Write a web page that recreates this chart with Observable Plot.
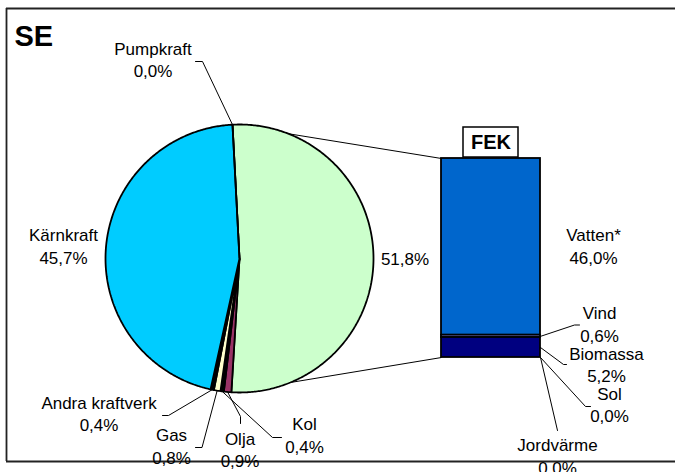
<!DOCTYPE html>
<html><head><meta charset="utf-8">
<script src="https://cdn.jsdelivr.net/npm/d3@7"></script>
<script src="https://cdn.jsdelivr.net/npm/@observablehq/plot@0.6"></script>
<style>
body{margin:0;background:#fff}
#chart{position:relative;width:675px;height:472px;overflow:hidden;background:#fff}
#chart svg{position:absolute;left:0;top:0}
</style>
</head><body><div id="chart"></div>
<script>
// ---------- DATA ----------
const pieNames  = ["FEK", "Olja", "Kol", "Gas", "Andra kraftverk", "Kärnkraft", "Pumpkraft"];
const pieValues = [51.8, 0.9, 0.4, 0.8, 0.4, 45.7, 0.0];
const fekNames  = ["Vatten*", "Vind", "Biomassa", "Sol", "Jordvärme"];
const fekValues = [46.0, 0.6, 5.2, 0.0, 0.0];
const chartTitle = "SE";
const barTitle = "FEK";

// ---------- STYLE / LAYOUT ----------
const colors = {
  "FEK": "#CCFFCC", "Olja": "#993366", "Kol": "#000000", "Gas": "#FFFFCC",
  "Andra kraftverk": "#000000", "Kärnkraft": "#00CCFF", "Pumpkraft": "#000000",
  "Vatten*": "#0066CC", "Vind": "#9999FF", "Biomassa": "#000080", "Sol": "#000000", "Jordvärme": "#000000"
};
const W = 675, H = 472;
const FONT = "'Liberation Sans', Arial, Helvetica, sans-serif";
const pieLayout = {cx: 239, cy: 258, r: 134, startDeg: -3};
const barLayout = {x0: 441, x1: 540, yTop: 158, yBottom: 357};
const frame = {left: 6, top: 8, bottom: 461};
const labelPos = {
  "Pumpkraft": [152.5, 76.5], "Kärnkraft": [63, 263], "FEK": [404.5, 264],
  "Andra kraftverk": [98.5, 430.5], "Gas": [171, 463], "Olja": [239.5, 466.5], "Kol": [304, 452],
  "Vatten*": [593, 263], "Vind": [599, 341], "Biomassa": [606, 381.5], "Sol": [609, 421.5], "Jordvärme": [557, 473]
};
const pieLeaders = {
  "Pumpkraft": [[195, 61], [202, 61]], "Andra kraftverk": [[162, 415], [168, 415]],
  "Gas": [[195, 447], [201.5, 447]], "Olja": [[240, 423], [240, 416]], "Kol": [[281, 437], [272, 437]]
};
const barLeaders = {
  "Vind": [[579, 324.5], [574, 324.5]], "Biomassa": [[566, 364], [563, 364]],
  "Sol": [[590, 406], [585, 406]], "Jordvärme": [[557, 430]]
};
const fmt = v => v.toFixed(1).replace(".", ",") + "%";

// ---------- SCALES ----------
const pieXOpt = {domain: [-1, 1], range: [pieLayout.cx - pieLayout.r, pieLayout.cx + pieLayout.r]};
const pieYOpt = {domain: [-1, 1], range: [pieLayout.cy + pieLayout.r, pieLayout.cy - pieLayout.r]};
const fekTotal = d3.sum(fekValues);
const barXOpt = {type: "band", domain: [barTitle], range: [barLayout.x0, barLayout.x1], padding: 0};
const barYOpt = {domain: [0, fekTotal], range: [barLayout.yBottom, barLayout.yTop]};
const sPX = Plot.scale({x: pieXOpt}), sPY = Plot.scale({y: pieYOpt});
const sBX = Plot.scale({x: barXOpt}), sBY = Plot.scale({y: barYOpt});
const pix = {x: {domain: [0, W], range: [0, W], axis: null}, y: {domain: [0, H], range: [0, H], axis: null}};

// ---------- PIE GEOMETRY ----------
const pieTotal = d3.sum(pieValues);
let acc = pieLayout.startDeg * Math.PI / 180;
const slices = pieNames.map((name, i) => {
  const a0 = acc, a1 = acc + pieValues[i] / pieTotal * 2 * Math.PI;
  acc = a1;
  return {name, value: pieValues[i], a0, a1, mid: (a0 + a1) / 2};
});
const piePts = slices.flatMap(s => {
  const n = Math.max(2, Math.ceil((s.a1 - s.a0) / 0.01));
  const pts = [{name: s.name, x: 0, y: 0}];
  for (let k = 0; k <= n; k++) {
    const a = s.a0 + (s.a1 - s.a0) * k / n;
    pts.push({name: s.name, x: Math.sin(a), y: Math.cos(a)});
  }
  return pts;
});
const arcPx = a => [sPX.apply(Math.sin(a)), sPY.apply(Math.cos(a))];

// ---------- BAR GEOMETRY ----------
const fekRows = fekNames.map((name, i) => ({name, value: fekValues[i], group: barTitle}));
let cum = 0;
const segs = {};
[...fekRows].reverse().forEach(d => { segs[d.name] = {y0: cum, y1: cum + d.value}; cum += d.value; });
const barLeft = sBX.apply(barTitle), barRight = barLeft + sBX.bandwidth;

// ---------- OVERLAY DATA ----------
const fekSlice = slices[0];
const connectors = [
  {p: arcPx(fekSlice.a0), q: [barLeft, sBY.apply(fekTotal)]},
  {p: arcPx(fekSlice.a1), q: [barLeft, sBY.apply(0)]}
];
const leaderPts = [];
slices.forEach(s => {
  const L = pieLeaders[s.name]; if (!L) return;
  L.forEach(([x, y]) => leaderPts.push({id: s.name, x, y}));
  const [ax, ay] = arcPx(s.mid);
  leaderPts.push({id: s.name, x: ax, y: ay});
});
fekRows.forEach(d => {
  const L = barLeaders[d.name]; if (!L) return;
  L.forEach(([x, y]) => leaderPts.push({id: d.name, x, y}));
  const sg = segs[d.name];
  leaderPts.push({id: d.name, x: barRight, y: sBY.apply((sg.y0 + sg.y1) / 2)});
});
const labels = [];
slices.forEach(s => {
  const p = labelPos[s.name];
  labels.push({x: p[0], y: p[1], text: s.name === "FEK" ? fmt(s.value) : s.name + "\n" + fmt(s.value)});
});
fekRows.forEach(d => {
  const p = labelPos[d.name];
  labels.push({x: p[0], y: p[1], text: d.name + "\n" + fmt(d.value)});
});
const fekBoxCx = barLeft + sBX.bandwidth / 2;
const fekTopPx = sBY.apply(fekTotal);
const fekBox = [{x1: fekBoxCx - 27.5, x2: fekBoxCx + 27.5, y1: fekTopPx - 31, y2: fekTopPx - 1, text: barTitle, tx: fekBoxCx, ty: fekTopPx - 9.5}];

const common = {width: W, height: H, margin: 0, style: {background: "transparent", overflow: "visible"}};

// back layer: frame + connectors
const back = Plot.plot({...common, ...pix, marks: [
  Plot.ruleY([frame.top, frame.bottom], {x1: frame.left, x2: W, stroke: "#222", strokeWidth: 1.8}),
  Plot.ruleX([frame.left], {y1: frame.top, y2: frame.bottom, stroke: "#222", strokeWidth: 1.8}),
  Plot.link(connectors, {x1: d => d.p[0], y1: d => d.p[1], x2: d => d.q[0], y2: d => d.q[1], stroke: "black", strokeWidth: 1})
]});

// pie
const pie = Plot.plot({...common,
  x: {...pieXOpt, axis: null}, y: {...pieYOpt, axis: null}, color: {type: "identity"},
  marks: [
    Plot.line(piePts, {x: "x", y: "y", z: "name", fill: d => colors[d.name], stroke: "black",
      strokeWidth: 1.8, curve: "linear-closed", strokeLinejoin: "miter"})
  ]});

// bar
const bar = Plot.plot({...common,
  x: {...barXOpt, axis: null}, y: {...barYOpt, axis: null}, color: {type: "identity"},
  marks: [
    Plot.barY(fekRows, Plot.stackY({x: "group", y: "value", fill: d => colors[d.name], reverse: true,
      stroke: "black", strokeWidth: 1.8}))
  ]});

// front layer: leaders, labels, titles
const front = Plot.plot({...common, ...pix, marks: [
  Plot.line(leaderPts, {x: "x", y: "y", z: "id", stroke: "black", strokeWidth: 1}),
  Plot.text(labels, {x: "x", y: "y", text: "text", lineAnchor: "bottom", lineHeight: 1.3,
    fontSize: 17, fontFamily: FONT, fill: "black", textAnchor: "middle"}),
  Plot.text([{t: chartTitle}], {x: () => 14, y: () => 45.7, text: "t", textAnchor: "start", lineAnchor: "bottom",
    fontSize: 29, fontWeight: "bold", fontFamily: FONT, fill: "black"}),
  Plot.rect(fekBox, {x1: "x1", x2: "x2", y1: "y1", y2: "y2", fill: "white", stroke: "black", strokeWidth: 1.5}),
  Plot.text(fekBox, {x: "tx", y: "ty", text: "text", textAnchor: "middle", lineAnchor: "bottom",
    fontSize: 20, fontWeight: "bold", fontFamily: FONT, fill: "black"})
]});

const host = document.getElementById("chart");
[back, pie, bar, front].forEach(s => host.appendChild(s));
</script>
</body></html>
